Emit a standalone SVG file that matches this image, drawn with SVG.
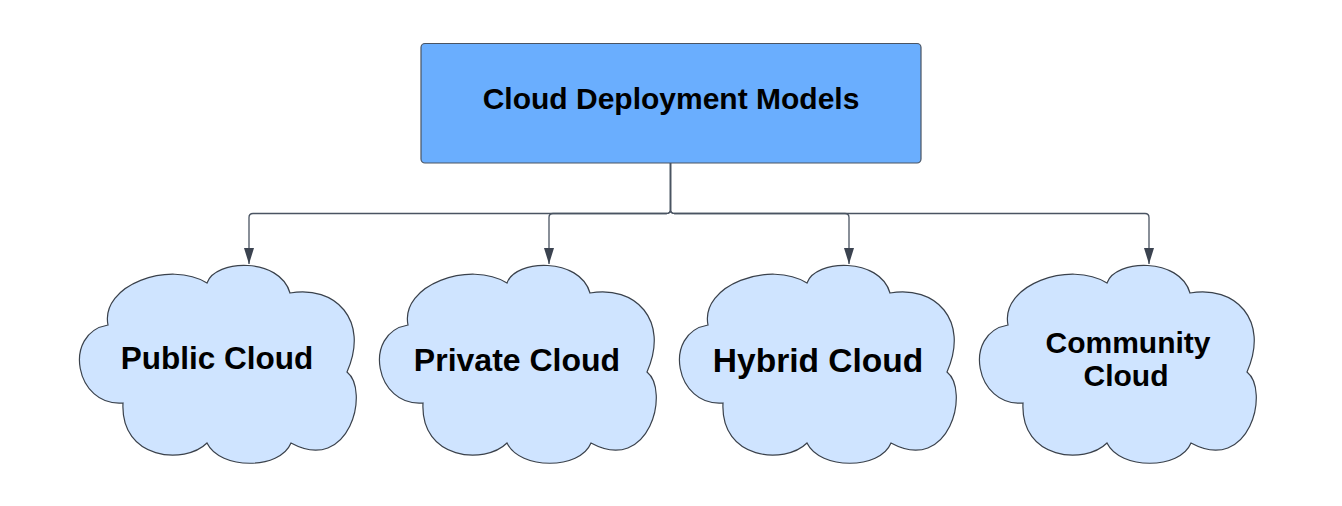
<svg xmlns="http://www.w3.org/2000/svg" width="1342" height="506" viewBox="0 0 1342 506">
<style>
.cloud{fill:#cfe4ff;stroke:#3a414b;stroke-width:1.2}
.box{fill:#6aaefe;stroke:#4a5462;stroke-width:1.2}
.lbl{font-family:"Liberation Sans",Arial,sans-serif;font-weight:bold;fill:#000;text-anchor:middle}
.conn{fill:none;stroke:#4a5462;stroke-width:1.3}
</style>
<defs>
<marker id="arr" viewBox="0 0 16 10" refX="16" refY="5" markerWidth="16" markerHeight="10" markerUnits="userSpaceOnUse" orient="auto">
<path d="M0,0 L16,5 L0,10 Z" fill="#3b4350"/>
</marker>
<path id="cloudShape" d="M28,60 C20,20 90,-5 127,18 C135,-6 200,-8 210,28 C255,20 290,55 267,107 C290,125 270,210 211,178 C200,205 140,205 127,178 C105,200 40,195 43,138 C-5,142 -18,68 28,60 Z"/>
</defs>
<rect width="1342" height="506" fill="#ffffff"/>
<g id="connectors">
<path class="conn" d="M670.5,163 V209.5 Q670.5,213.5 666.5,213.5 H253 Q249,213.5 249,217.5 V264" marker-end="url(#arr)"/>
<path class="conn" d="M670.5,163 V209.5 Q670.5,213.5 666.5,213.5 H553 Q549,213.5 549,217.5 V264" marker-end="url(#arr)"/>
<path class="conn" d="M670.5,163 V209.5 Q670.5,213.5 674.5,213.5 H845 Q849,213.5 849,217.5 V264" marker-end="url(#arr)"/>
<path class="conn" d="M670.5,163 V209.5 Q670.5,213.5 674.5,213.5 H1145 Q1149,213.5 1149,217.5 V264" marker-end="url(#arr)"/>
</g>
<g id="root">
<rect class="box" x="421" y="43.5" width="500" height="119.5" rx="4"/>
<text class="lbl" x="671" y="109" font-size="30">Cloud Deployment Models</text>
</g>
<g id="public">
<use href="#cloudShape" class="cloud" transform="translate(80,265)"/>
<text class="lbl" x="217" y="369" font-size="31.5">Public Cloud</text>
</g>
<g id="private">
<use href="#cloudShape" class="cloud" transform="translate(380,265)"/>
<text class="lbl" x="517" y="370.5" font-size="32">Private Cloud</text>
</g>
<g id="hybrid">
<use href="#cloudShape" class="cloud" transform="translate(680,265)"/>
<text class="lbl" x="818" y="372" font-size="33.5">Hybrid Cloud</text>
</g>
<g id="community">
<use href="#cloudShape" class="cloud" transform="translate(980,265)"/>
<text class="lbl" x="1128" y="353" font-size="30">Community</text>
<text class="lbl" x="1126" y="386" font-size="30">Cloud</text>
</g>
</svg>
